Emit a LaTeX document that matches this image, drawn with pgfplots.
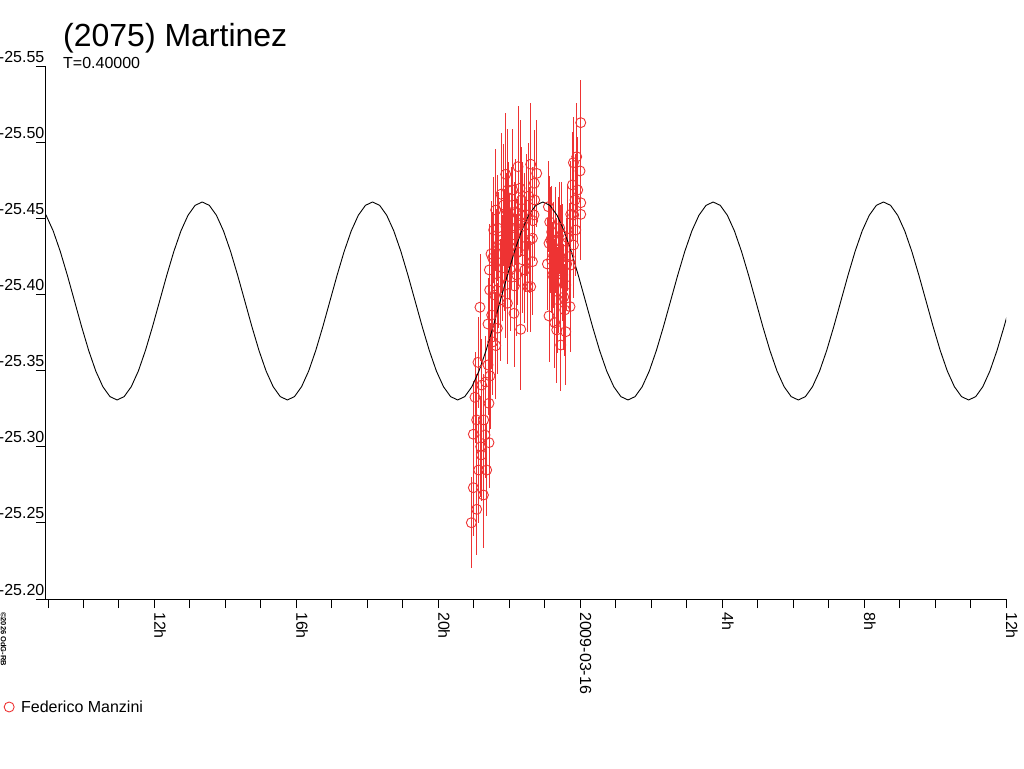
\documentclass[border=0pt]{standalone}
\usepackage{fontspec}
\setmainfont{Liberation Sans}
\usepackage{pgfplots}
\usepackage{pgfplotstable}
\pgfplotsset{compat=1.18}
\definecolor{myred}{RGB}{238,51,51}

\pgfplotstableread{
t m e
-3.068 -25.2501 0.030
-3.012 -25.2731 0.032
-3.012 -25.3082 0.035
-2.967 -25.3325 0.030
-2.919 -25.2589 0.030
-2.882 -25.3554 0.030
-2.826 -25.3916 0.035
-2.806 -25.3000 0.033
-2.786 -25.2946 0.030
-2.730 -25.2683 0.035
-2.685 -25.3077 0.028
-2.600 -25.3806 0.030
-2.600 -25.3537 0.033
-2.572 -25.3285 0.040
-2.572 -25.3027 0.030
-2.544 -25.3465 0.035
-2.515 -25.4266 0.035
-2.561 -25.4161 0.030
-2.383 -25.3664 0.035
-2.335 -25.3778 0.030
-2.233 -25.4658 0.040
-2.092 -25.4445 0.035
-2.101 -25.4789 0.040
-2.053 -25.4543 0.035
-2.053 -25.3942 0.040
-1.856 -25.4056 0.035
-1.867 -25.3876 0.035
-1.754 -25.4839 0.040
-1.698 -25.4697 0.045
-1.658 -25.4620 0.035
-1.630 -25.4522 0.035
-1.678 -25.3771 0.040
-1.585 -25.4449 0.035
-1.481 -25.4051 0.030
-1.396 -25.4855 0.040
-1.340 -25.4484 0.035
-1.348 -25.4369 0.030
-1.348 -25.4215 0.035
-1.396 -25.4051 0.030
-1.292 -25.4730 0.035
-1.283 -25.4620 0.030
-1.227 -25.4795 0.035
-1.303 -25.4522 0.030
-2.468 -25.4239 0.030
-2.355 -25.4213 0.035
-2.214 -25.4358 0.035
-2.157 -25.4587 0.040
-1.988 -25.4312 0.035
-1.932 -25.4436 0.040
-1.819 -25.4541 0.035
-2.298 -25.4082 0.030
-2.186 -25.4174 0.035
-2.411 -25.3996 0.030
-2.496 -25.3865 0.035
-2.665 -25.3425 0.030
-2.721 -25.3176 0.030
-2.862 -25.2847 0.035
-2.637 -25.2847 0.030
-1.960 -25.4161 0.040
-1.763 -25.4279 0.035
-1.537 -25.4318 0.030
-1.452 -25.4646 0.035
-1.904 -25.4686 0.040
-2.919 -25.3176 0.030
-2.778 -25.3405 0.030
-2.468 -25.3688 0.035
-2.327 -25.4436 0.035
-2.045 -25.4686 0.040
-1.565 -25.4161 0.035
-2.439 -25.4423 0.035
-2.383 -25.4554 0.040
-2.298 -25.4325 0.035
-2.129 -25.4292 0.040
-2.016 -25.4522 0.035
-1.904 -25.4587 0.040
-1.847 -25.4390 0.035
-1.734 -25.4456 0.040
-1.622 -25.4226 0.035
-1.509 -25.4522 0.040
-1.424 -25.4358 0.035
-2.242 -25.3964 0.040
-2.101 -25.4062 0.035
-2.552 -25.4029 0.035
-1.791 -25.4128 0.040
-0.925 -25.4200 0.030
-0.897 -25.4576 0.030
-0.880 -25.4336 0.035
-0.880 -25.3859 0.030
-0.832 -25.4358 0.035
-0.804 -25.4410 0.030
-0.747 -25.4259 0.035
-0.719 -25.3815 0.030
-0.663 -25.3767 0.035
-0.663 -25.4200 0.030
-0.606 -25.4095 0.035
-0.550 -25.3668 0.030
-0.550 -25.4239 0.035
-0.494 -25.4292 0.030
-0.465 -25.3983 0.035
-0.409 -25.4062 0.030
-0.409 -25.3755 0.035
-0.381 -25.4200 0.030
-0.316 -25.4248 0.035
-0.288 -25.3920 0.030
-0.268 -25.4526 0.035
-0.220 -25.4719 0.035
-0.192 -25.4865 0.030
-0.192 -25.4325 0.035
-0.147 -25.4620 0.030
-0.099 -25.4904 0.035
-0.006 -25.4811 0.030
0.014 -25.5128 0.028
0.014 -25.4602 0.030
0.014 -25.4526 0.030
-0.691 -25.4358 0.035
-0.578 -25.4436 0.030
-0.776 -25.4128 0.035
-0.494 -25.4128 0.030
-0.353 -25.4371 0.035
-0.127 -25.4423 0.030
-0.071 -25.4686 0.035
-0.183 -25.4522 0.030
-0.635 -25.3964 0.035
-0.860 -25.4476 0.030
-0.804 -25.4226 0.035
-0.719 -25.4062 0.030
-0.522 -25.4390 0.035
-0.437 -25.3898 0.030
-0.606 -25.4292 0.035
-0.268 -25.4193 0.030
}\obsdata

\pgfplotstableread{
t m
-15.254 -25.4585
-15.054 -25.4520
-14.854 -25.4417
-14.654 -25.4282
-14.454 -25.4125
-14.254 -25.3957
-14.054 -25.3789
-13.854 -25.3632
-13.654 -25.3497
-13.454 -25.3394
-13.254 -25.3329
-13.054 -25.3307
-12.854 -25.3329
-12.654 -25.3394
-12.454 -25.3497
-12.254 -25.3632
-12.054 -25.3789
-11.854 -25.3957
-11.654 -25.4125
-11.454 -25.4282
-11.254 -25.4417
-11.054 -25.4520
-10.854 -25.4585
-10.654 -25.4607
-10.454 -25.4585
-10.254 -25.4520
-10.054 -25.4417
-9.854 -25.4282
-9.654 -25.4125
-9.454 -25.3957
-9.254 -25.3789
-9.054 -25.3632
-8.854 -25.3497
-8.654 -25.3394
-8.454 -25.3329
-8.254 -25.3307
-8.054 -25.3329
-7.854 -25.3394
-7.654 -25.3497
-7.454 -25.3632
-7.254 -25.3789
-7.054 -25.3957
-6.854 -25.4125
-6.654 -25.4282
-6.454 -25.4417
-6.254 -25.4520
-6.054 -25.4585
-5.854 -25.4607
-5.654 -25.4585
-5.454 -25.4520
-5.254 -25.4417
-5.054 -25.4282
-4.854 -25.4125
-4.654 -25.3957
-4.454 -25.3789
-4.254 -25.3632
-4.054 -25.3497
-3.854 -25.3394
-3.654 -25.3329
-3.454 -25.3307
-3.254 -25.3329
-3.054 -25.3394
-2.854 -25.3497
-2.654 -25.3632
-2.454 -25.3789
-2.254 -25.3957
-2.054 -25.4125
-1.854 -25.4282
-1.654 -25.4417
-1.454 -25.4520
-1.254 -25.4585
-1.054 -25.4607
-0.854 -25.4585
-0.654 -25.4520
-0.454 -25.4417
-0.254 -25.4282
-0.054 -25.4125
0.146 -25.3957
0.346 -25.3789
0.546 -25.3632
0.746 -25.3497
0.946 -25.3394
1.146 -25.3329
1.346 -25.3307
1.546 -25.3329
1.746 -25.3394
1.946 -25.3497
2.146 -25.3632
2.346 -25.3789
2.546 -25.3957
2.746 -25.4125
2.946 -25.4282
3.146 -25.4417
3.346 -25.4520
3.546 -25.4585
3.746 -25.4607
3.946 -25.4585
4.146 -25.4520
4.346 -25.4417
4.546 -25.4282
4.746 -25.4125
4.946 -25.3957
5.146 -25.3789
5.346 -25.3632
5.546 -25.3497
5.746 -25.3394
5.946 -25.3329
6.146 -25.3307
6.346 -25.3329
6.546 -25.3394
6.746 -25.3497
6.946 -25.3632
7.146 -25.3789
7.346 -25.3957
7.546 -25.4125
7.746 -25.4282
7.946 -25.4417
8.146 -25.4520
8.346 -25.4585
8.546 -25.4607
8.746 -25.4585
8.946 -25.4520
9.146 -25.4417
9.346 -25.4282
9.546 -25.4125
9.746 -25.3957
9.946 -25.3789
10.146 -25.3632
10.346 -25.3497
10.546 -25.3394
10.746 -25.3329
10.946 -25.3307
11.146 -25.3329
11.346 -25.3394
11.546 -25.3497
11.746 -25.3632
11.946 -25.3789
12.146 -25.3957
}\fitcurve

\begin{document}
\begin{tikzpicture}
\path[use as bounding box] (-45pt,-169pt) rectangle (979pt,599pt);
\begin{axis}[
  scale only axis, width=961pt, height=533pt,
  xmin=-15.085, xmax=12, ymin=-25.55, ymax=-25.20, y dir=reverse,
  axis x line*=bottom, axis y line*=left,
  axis line style={-, black, line width=1pt},
  tick align=outside, major tick length=9pt,
  tick style={black, line width=1pt},
  xtick={-15,...,12},
  xticklabels={,,,12h,,,,16h,,,,20h,,,,2009-03-16,,,,4h,,,,8h,,,,12h},
  ytick={-25.55,-25.50,-25.45,-25.40,-25.35,-25.30,-25.25,-25.20},
  yticklabel style={/pgf/number format/fixed, /pgf/number format/fixed zerofill, /pgf/number format/precision=2, /pgf/number format/assume math mode=true, anchor=base east, inner sep=0pt, xshift=8.5pt, yshift=4pt},
  xticklabel style={yshift=-4pt, rotate=-90, anchor=base west, inner sep=0pt},
  ticklabel style={font=\fontsize{16}{19}\selectfont},
  legend style={at={(axis description cs:-0.0427,-0.2026)}, anchor=west, draw=none, fill=none, inner sep=0pt, font=\fontsize{16}{19}\selectfont},
  legend cell align=left,
  legend image code/.code={\path[draw=none, fill=none] (0pt,0pt) -- (15pt,0pt); \draw[#1] plot coordinates {(5pt,0pt)};},
]
\addplot[only marks, mark=o, mark size=5pt, myred, line width=0.9pt, forget plot,
  error bars/.cd, y dir=both, y explicit, error mark=none,
  error bar style={myred, line width=0.9pt}]
  table[x=t, y=m, y error=e] {\obsdata};
\addplot[black, line width=0.9pt, forget plot] table[x=t, y=m] {\fitcurve};
\addlegendimage{only marks, mark=o, mark size=5pt, myred, line width=0.9pt}
\addlegendentry{Federico Manzini}
\end{axis}
\node[anchor=base west, inner sep=0pt, font=\fontsize{32}{38}\selectfont] at (18pt,552pt) {(2075) Martinez};
\node[anchor=base west, inner sep=0pt, font=\fontsize{16}{19}\selectfont] at (18pt,530pt) {T=0.40000};
\node[anchor=base west, inner sep=0pt, rotate=-90, font=\bfseries\fontsize{7.5}{9}\selectfont] at (-44pt,-13pt) {©2026 OdG-RB};
\end{tikzpicture}
\end{document}
